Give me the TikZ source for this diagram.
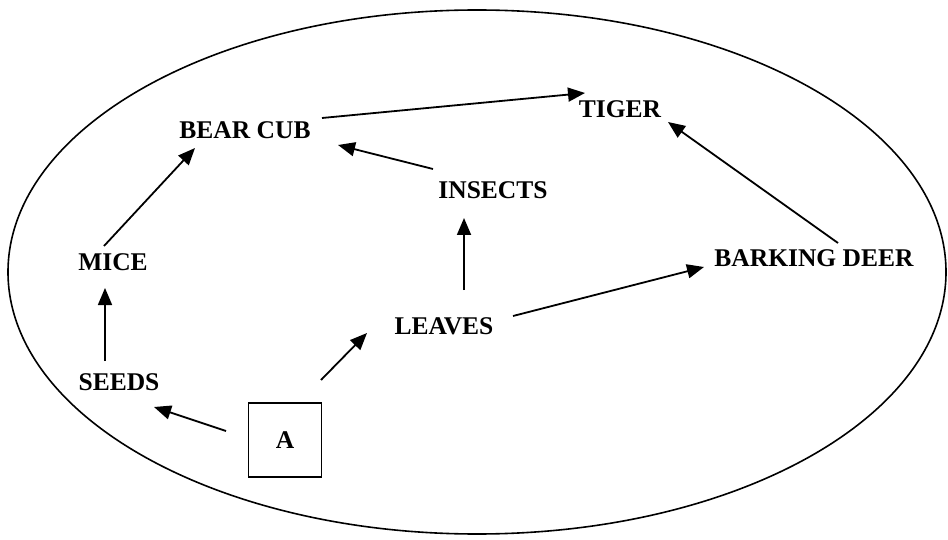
\documentclass[tikz,border=0pt]{standalone}
\usepackage{fontspec}
\setmainfont{Liberation Serif}
\usetikzlibrary{arrows.meta}

\tikzset{
    animal/.style={inner sep=0pt, font=\fontsize{25.5}{30}\selectfont\bfseries},
    food/.style={-{Triangle[length=17pt,width=14pt]}, line width=1.8pt},
}

\begin{document}
\begin{tikzpicture}[x=1pt, y=-1pt]

    % Frame and the big ellipse
    \useasboundingbox (0,0) rectangle (948,540);
    \draw[line width=1.6pt] (477,272) ellipse [x radius=469, y radius=262];

    % The animals and plants
    \node[animal] (bear) at (245,130) {BEAR CUB};
    \node[animal] (tiger) at (620,109) {TIGER};
    \node[animal] (insects) at (493,190) {INSECTS};
    \node[animal] (mice) at (113,262) {MICE};
    \node[animal] (deer) at (814,258) {BARKING DEER};
    \node[animal] (leaves) at (444,326) {LEAVES};
    \node[animal] (seeds) at (119,382) {SEEDS};
    \node[animal, draw, line width=1.6pt, minimum width=73pt, minimum height=74pt] (A) at (285,440) {A};

    % Who eats whom
    \draw[food] ([shift={(77,-12)}]bear.center) -- ([shift={(-35,-16)}]tiger.center);
    \draw[food] ([shift={(-60,-21)}]insects.center) -- ([shift={(93,15)}]bear.center);
    \draw[food] ([shift={(-9,-16)}]mice.center) -- ([shift={(-50,18)}]bear.center);
    \draw[food] ([shift={(-14,-21)}]seeds.center) -- ([shift={(-8,26)}]mice.center);
    \draw[food] ([shift={(-59,-9)}]A.center) -- ([shift={(35,25)}]seeds.center);
    \draw[food] ([shift={(36,-60)}]A.center) -- ([shift={(-77,7)}]leaves.center);
    \draw[food] ([shift={(20,-36)}]leaves.center) -- ([shift={(-29,28)}]insects.center);
    \draw[food] ([shift={(69,-10)}]leaves.center) -- ([shift={(-110,9)}]deer.center);
    \draw[food] ([shift={(24,-15)}]deer.center) -- ([shift={(48,13)}]tiger.center);

\end{tikzpicture}
\end{document}
